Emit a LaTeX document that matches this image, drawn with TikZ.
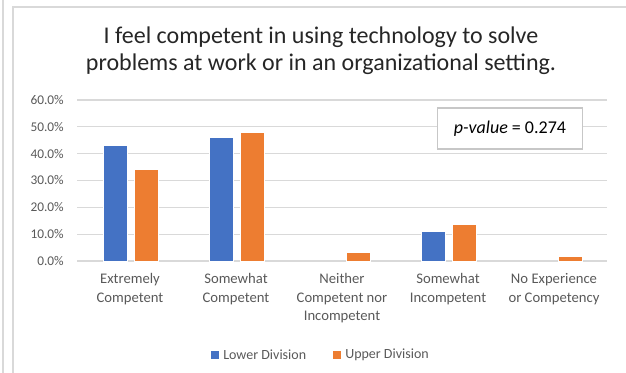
\documentclass[tikz,border=0pt]{standalone}
\usepackage{fontspec}
\setmainfont{Carlito}
\definecolor{xblue}{HTML}{4472C4}
\definecolor{xorange}{HTML}{ED7D31}
\definecolor{xgrid}{HTML}{D9D9D9}
\definecolor{xtext}{HTML}{595959}
\definecolor{xtitle}{HTML}{262626}
\begin{document}
\begin{tikzpicture}[x=0.75pt,y=-0.75pt,
  gridline/.style={draw=xgrid,line width=0.9pt},
  lowbar/.style={fill=xblue,draw=white,line width=0.4pt},
  upbar/.style={fill=xorange,draw=white,line width=0.4pt},
  ylab/.style={anchor=east,font=\fontsize{10}{12}\selectfont,text=xtext,inner sep=0pt},
  catlab/.style={anchor=north,align=center,font=\fontsize{11}{14}\selectfont,text=xtext,inner sep=0pt},
  leglab/.style={anchor=west,font=\fontsize{10.5}{12}\selectfont,text=xtext,inner sep=0pt},
  frameline/.style={draw=xgrid,line width=1pt}]
\useasboundingbox (0,0) rectangle (626,373);
% outer frame lines
\draw[frameline] (3,0) -- (3,373);
\draw[frameline] (13,373) -- (13,7) -- (626,7);
% title
\node[align=center,font=\fontsize{18}{20.25}\selectfont,text=xtitle,inner sep=0pt] (title) at (321,51) {I feel competent in using technology to solve\\problems at work or in an organizational setting.};
% gridlines and y labels
\foreach \v [count=\i from 0] in {0.0,10.0,20.0,30.0,40.0,50.0,60.0} {
  \draw[gridline] (77,{261-26.83*\i}) -- (607,{261-26.83*\i});
  \node[ylab] (y\i) at (64,{261-26.83*\i}) {\v\%};
}
% bars: value v -> height 2.683*v
\newcommand{\lowb}[2]{\path[lowbar] ({#1-27},261) rectangle ({#1-3},{261-2.683*#2});}
\newcommand{\upb}[2]{\path[upbar] ({#1+4},261) rectangle ({#1+28},{261-2.683*#2});}
\lowb{130}{43.3}\upb{130}{34.3}
\lowb{236}{46.0}\upb{236}{47.9}
\upb{342}{3.2}
\lowb{448}{11.2}\upb{448}{13.7}
\upb{554}{1.9}
% category labels
\node[catlab] (c1) at (130,273) {Extremely\\Competent};
\node[catlab] (c2) at (236,273) {Somewhat\\Competent};
\node[catlab] (c3) at (342,273) {Neither\\Competent nor\\Incompetent};
\node[catlab] (c4) at (448,273) {Somewhat\\Incompetent};
\node[catlab] (c5) at (554,273) {No Experience\\or Competency};
% p-value box
\node[draw=xgrid!80!gray,line width=1pt,fill=white,minimum width=145*0.75pt,minimum height=41*0.75pt,font=\fontsize{13.5}{15}\selectfont,text=black] (pv) at (510,128.5) {\textit{p-value} = 0.274};
% legend
\fill[xblue] (211,351) rectangle (219,359);
\node[leglab] (l1) at (223,355) {Lower Division};
\fill[xorange] (333,351) rectangle (341,359);
\node[leglab] (l2) at (345,355) {Upper Division};
\end{tikzpicture}
\end{document}
